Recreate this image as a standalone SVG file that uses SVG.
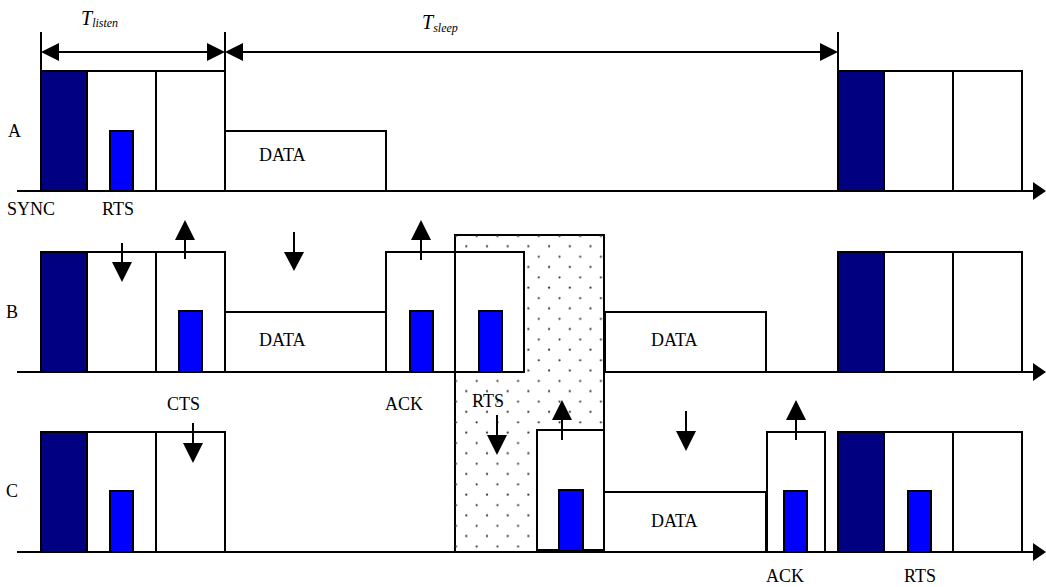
<svg xmlns="http://www.w3.org/2000/svg" width="1046" height="587" viewBox="0 0 1046 587">
<style>
.box{fill:#fff;stroke:#000;stroke-width:2}
.sync{fill:#000080;stroke:#000;stroke-width:2}
.pkt{fill:#0000ff;stroke:#000;stroke-width:2}
.ln{stroke:#000;stroke-width:2;fill:none}
.hd{fill:#000}
.t{font-family:"Liberation Serif","Times New Roman",serif;font-size:18px;fill:#000}
.ti{font-family:"Liberation Serif","Times New Roman",serif;font-style:italic;fill:#000}
</style>
<defs>
<pattern id="dots" patternUnits="userSpaceOnUse" x="461.3" y="230.8" width="20.7" height="20.7">
<circle cx="15.4" cy="5.2" r="1.1" fill="#333"/>
<circle cx="5" cy="15.5" r="1.1" fill="#333"/>
</pattern>
</defs>
<rect width="1046" height="587" fill="#fff"/>

<g id="dimensions">
<line class="ln" x1="41" y1="32" x2="41" y2="71"/>
<line class="ln" x1="225" y1="32" x2="225" y2="71"/>
<line class="ln" x1="838" y1="32" x2="838" y2="71"/>
<line class="ln" x1="45" y1="52" x2="221" y2="52"/>
<line class="ln" x1="229" y1="52" x2="834" y2="52"/>
<polygon class="hd" points="41,52 59,43 59,61"/>
<polygon class="hd" points="225,52 207,43 207,61"/>
<polygon class="hd" points="225,52 243,43 243,61"/>
<polygon class="hd" points="838,52 820,43 820,61"/>
<text class="ti" x="81" y="25" font-size="20">T<tspan font-size="12" dy="2">listen</tspan></text>
<text class="ti" x="422" y="29" font-size="20">T<tspan font-size="12" dy="3">sleep</tspan></text>
</g>

<g id="axes">
<line class="ln" x1="17" y1="191" x2="1036" y2="191"/>
<polygon class="hd" points="1033,182 1046,191 1033,200"/>
<line class="ln" x1="17" y1="372" x2="1036" y2="372"/>
<polygon class="hd" points="1033,363 1046,372 1033,381"/>
<line class="ln" x1="17" y1="552" x2="1036" y2="552"/>
<polygon class="hd" points="1033,543 1046,552 1033,561"/>
</g>

<g id="contention">
<rect x="455" y="235" width="149" height="317" fill="#fff" stroke="#000" stroke-width="2"/>
<rect x="455" y="235" width="149" height="317" fill="url(#dots)"/>
</g>

<g id="nodeA">
<text class="t" x="8" y="137">A</text>
<rect class="sync" x="41" y="71" width="46" height="120"/>
<rect class="box" x="87" y="71" width="69" height="120"/>
<rect class="box" x="156" y="71" width="69" height="120"/>
<rect class="pkt" x="110" y="131" width="23" height="60"/>
<rect class="box" x="225" y="131" width="161" height="60"/>
<text class="t" x="259" y="161">DATA</text>
<rect class="sync" x="838" y="71" width="46" height="120"/>
<rect class="box" x="884" y="71" width="69" height="120"/>
<rect class="box" x="953" y="71" width="69" height="120"/>
<text class="t" x="7" y="215">SYNC</text>
<text class="t" x="102" y="215">RTS</text>
</g>

<g id="nodeB">
<text class="t" x="6" y="318">B</text>
<rect class="sync" x="41" y="252" width="46" height="120"/>
<rect class="box" x="87" y="252" width="69" height="120"/>
<rect class="box" x="156" y="252" width="69" height="120"/>
<rect class="pkt" x="179" y="311" width="23" height="61"/>
<rect class="box" x="225" y="312" width="161" height="60"/>
<text class="t" x="259" y="346">DATA</text>
<rect class="box" x="386" y="252" width="69" height="120"/>
<rect class="pkt" x="410" y="311" width="23" height="61"/>
<rect class="box" x="455" y="252" width="69" height="120"/>
<rect class="pkt" x="479" y="311" width="23" height="61"/>
<rect class="box" x="605" y="312" width="161" height="60"/>
<text class="t" x="651" y="346">DATA</text>
<rect class="sync" x="838" y="252" width="46" height="120"/>
<rect class="box" x="884" y="252" width="69" height="120"/>
<rect class="box" x="953" y="252" width="69" height="120"/>
<text class="t" x="167" y="410">CTS</text>
<text class="t" x="385" y="410">ACK</text>
<text class="t" x="472" y="407">RTS</text>
</g>

<g id="nodeC">
<text class="t" x="6" y="497">C</text>
<rect class="sync" x="41" y="432" width="46" height="120"/>
<rect class="box" x="87" y="432" width="69" height="120"/>
<rect class="box" x="156" y="432" width="69" height="120"/>
<rect class="pkt" x="110" y="491" width="23" height="61"/>
<rect class="box" x="537" y="430" width="67" height="120"/>
<rect class="pkt" x="559" y="490" width="24" height="61"/>
<rect class="box" x="604" y="492" width="162" height="60"/>
<text class="t" x="651" y="527">DATA</text>
<rect class="box" x="767" y="432" width="58" height="120"/>
<rect class="pkt" x="784" y="491" width="23" height="61"/>
<rect class="sync" x="838" y="432" width="46" height="120"/>
<rect class="box" x="884" y="432" width="69" height="120"/>
<rect class="box" x="953" y="432" width="69" height="120"/>
<rect class="pkt" x="908" y="491" width="23" height="61"/>
<text class="t" x="766" y="582">ACK</text>
<text class="t" x="904" y="582">RTS</text>
</g>

<g id="connectors">
<line class="ln" x1="122" y1="243" x2="122" y2="264"/>
<polygon class="hd" points="112,262 132,262 122,282"/>
<line class="ln" x1="185" y1="238" x2="185" y2="259"/>
<polygon class="hd" points="175,240 195,240 185,220"/>
<line class="ln" x1="294" y1="232" x2="294" y2="254"/>
<polygon class="hd" points="284,252 304,252 294,271"/>
<line class="ln" x1="421" y1="238" x2="421" y2="260"/>
<polygon class="hd" points="411,240 431,240 421,220"/>
<line class="ln" x1="193" y1="423" x2="193" y2="445"/>
<polygon class="hd" points="183,443 203,443 193,463"/>
<line class="ln" x1="497" y1="415" x2="497" y2="437"/>
<polygon class="hd" points="487,435 507,435 497,455"/>
<line class="ln" x1="562" y1="418" x2="562" y2="440"/>
<polygon class="hd" points="552,420 572,420 562,400"/>
<line class="ln" x1="686" y1="411" x2="686" y2="433"/>
<polygon class="hd" points="676,431 696,431 686,451"/>
<line class="ln" x1="796" y1="418" x2="796" y2="440"/>
<polygon class="hd" points="786,420 806,420 796,400"/>
</g>
</svg>
